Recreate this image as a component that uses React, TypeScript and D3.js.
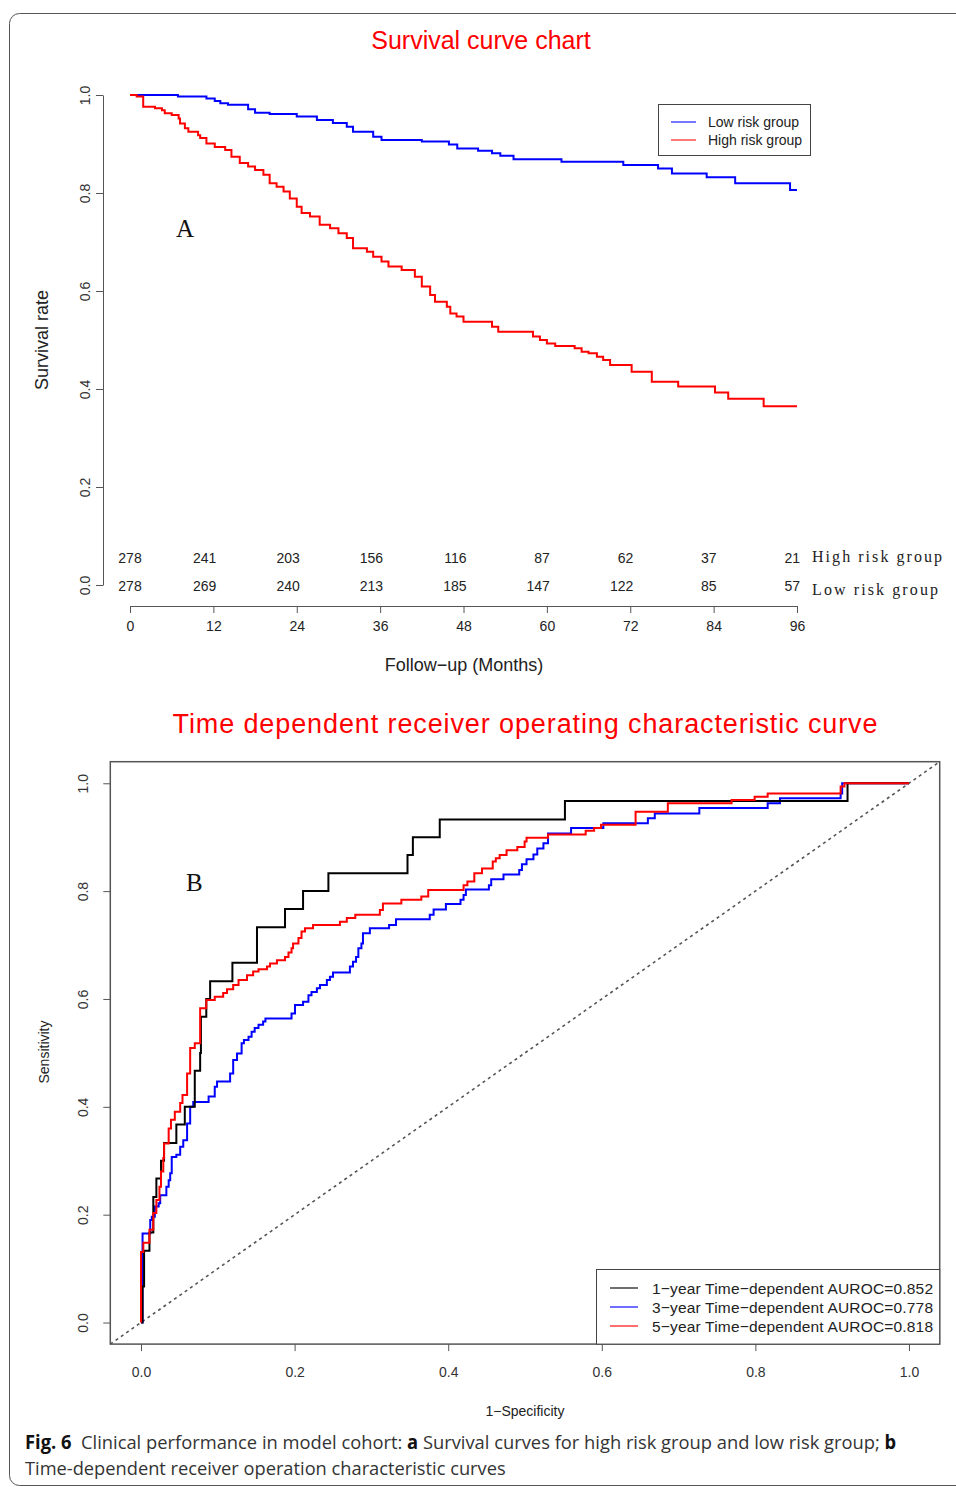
import * as d3 from "d3";
import { useEffect, useRef } from "react";

// number at risk table
const months = [0, 12, 24, 36, 48, 60, 72, 84, 96];
const highRiskAtRisk = [278, 241, 203, 156, 116, 87, 62, 37, 21];
const lowRiskAtRisk = [278, 269, 240, 213, 185, 147, 122, 85, 57];

// Kaplan-Meier steps: [month, survival]
const lowRiskSurv: [number, number][] = [
  [0, 1], [6.9, 0.997], [11, 0.993], [12.2, 0.988], [13, 0.983], [14.1, 0.98],
  [17, 0.971], [18, 0.964], [20.1, 0.961], [24, 0.956], [26.9, 0.949], [29.2, 0.943],
  [31.2, 0.935], [32.1, 0.925], [35, 0.915], [36.2, 0.908], [42, 0.905], [45.9, 0.899],
  [47.1, 0.891], [50.1, 0.886], [52.1, 0.881], [53.3, 0.876], [55.2, 0.869], [62.1, 0.864],
  [71, 0.857], [76, 0.85], [78, 0.84], [83, 0.832], [87.1, 0.82], [95, 0.806], [96, 0.806],
];
const highRiskSurv: [number, number][] = [
  [0, 1], [0.96, 0.997], [1.9, 0.976], [3.6, 0.973], [4.6, 0.969], [5, 0.963], [6, 0.959],
  [7, 0.952], [7.2, 0.942], [7.9, 0.932], [8.4, 0.925], [9.8, 0.918], [10.1, 0.912],
  [11, 0.901], [12.2, 0.894], [13.7, 0.888], [14.6, 0.874], [15.8, 0.861], [17, 0.854],
  [18, 0.847], [19.2, 0.837], [20.1, 0.82], [21.1, 0.813], [22.1, 0.803], [23, 0.789],
  [24, 0.772], [24.7, 0.759], [25.9, 0.752], [27.3, 0.735], [28.8, 0.728], [30, 0.718],
  [31.2, 0.708], [32.1, 0.687], [34.1, 0.68], [35, 0.67], [36.2, 0.66], [37.2, 0.65],
  [39.1, 0.643], [41, 0.629], [42, 0.609], [43.2, 0.592], [43.9, 0.578], [45.6, 0.568],
  [46.1, 0.554], [47, 0.548], [48, 0.537], [52.1, 0.527], [53, 0.517], [58, 0.507],
  [59, 0.5], [60, 0.493], [61.2, 0.488], [64, 0.483], [65, 0.476], [66, 0.473],
  [67.2, 0.466], [68.1, 0.459], [69.1, 0.449], [72.2, 0.435], [75.1, 0.415],
  [78.9, 0.405], [84.2, 0.393], [86.1, 0.38], [91.2, 0.365], [96, 0.365],
];

// time-dependent ROC: [1 - specificity, sensitivity]
const roc1Year: [number, number][] = [
  [0, 0], [0.002, 0.067], [0.004, 0.133], [0.011, 0.167], [0.016, 0.233], [0.02, 0.267],
  [0.026, 0.3], [0.03, 0.333], [0.046, 0.367], [0.057, 0.4], [0.07, 0.467], [0.077, 0.5],
  [0.078, 0.567], [0.085, 0.6], [0.09, 0.633], [0.119, 0.667], [0.151, 0.733],
  [0.1875, 0.767], [0.211, 0.8], [0.244, 0.833], [0.347, 0.867], [0.354, 0.9],
  [0.389, 0.933], [0.552, 0.967], [0.92, 1], [1, 1],
];
const roc3Year: [number, number][] = [
  [0, 0], [0.002, 0.091], [0.002, 0.165], [0.012, 0.19], [0.014, 0.196], [0.018, 0.215],
  [0.023, 0.221], [0.025, 0.236], [0.033, 0.252], [0.036, 0.264], [0.038, 0.277],
  [0.04, 0.307], [0.046, 0.311], [0.051, 0.326], [0.055, 0.338], [0.06, 0.369],
  [0.064, 0.4], [0.068, 0.409], [0.088, 0.419], [0.096, 0.437], [0.099, 0.447],
  [0.116, 0.462], [0.12, 0.487], [0.125, 0.499], [0.131, 0.518], [0.134, 0.524],
  [0.14, 0.53], [0.144, 0.539], [0.148, 0.546], [0.153, 0.552], [0.159, 0.558],
  [0.162, 0.564], [0.196, 0.573], [0.2005, 0.589], [0.211, 0.595], [0.218, 0.607],
  [0.222, 0.613], [0.229, 0.62], [0.233, 0.626], [0.242, 0.635], [0.246, 0.641],
  [0.25, 0.649], [0.272, 0.66], [0.276, 0.669], [0.28, 0.678], [0.283, 0.694],
  [0.287, 0.703], [0.289, 0.722], [0.298, 0.731], [0.323, 0.737], [0.332, 0.748],
  [0.376, 0.756], [0.381, 0.766], [0.397, 0.776], [0.416, 0.784], [0.42, 0.793],
  [0.423, 0.803], [0.453, 0.811], [0.456, 0.822], [0.472, 0.831], [0.4925, 0.839],
  [0.496, 0.85], [0.502, 0.859], [0.511, 0.868], [0.516, 0.879], [0.524, 0.889],
  [0.53, 0.907], [0.56, 0.917], [0.602, 0.926], [0.66, 0.935], [0.669, 0.944],
  [0.727, 0.954], [0.816, 0.963], [0.832, 0.972], [0.911, 0.981], [0.913, 1], [1, 1],
];
const roc5Year: [number, number][] = [
  [0, 0], [0, 0.131], [0.003, 0.148], [0.011, 0.172], [0.016, 0.203], [0.02, 0.227],
  [0.024, 0.252], [0.026, 0.28], [0.029, 0.305], [0.03, 0.332], [0.036, 0.36],
  [0.039, 0.376], [0.044, 0.391], [0.051, 0.407], [0.054, 0.422], [0.06, 0.462],
  [0.064, 0.509], [0.07, 0.518], [0.077, 0.583], [0.085, 0.598], [0.096, 0.604],
  [0.107, 0.611], [0.112, 0.618], [0.12, 0.626], [0.127, 0.635], [0.138, 0.644],
  [0.146, 0.651], [0.153, 0.655], [0.164, 0.66], [0.168, 0.666], [0.177, 0.672],
  [0.1875, 0.678], [0.192, 0.686], [0.196, 0.694], [0.198, 0.703], [0.205, 0.713],
  [0.209, 0.725], [0.2135, 0.731], [0.224, 0.737], [0.259, 0.743], [0.268, 0.75],
  [0.279, 0.756], [0.311, 0.765], [0.315, 0.777], [0.339, 0.784], [0.365, 0.79],
  [0.374, 0.802], [0.42, 0.811], [0.425, 0.818], [0.434, 0.833], [0.444, 0.842],
  [0.458, 0.855], [0.462, 0.861], [0.467, 0.867], [0.476, 0.876], [0.49, 0.882],
  [0.4995, 0.892], [0.502, 0.899], [0.53, 0.905], [0.579, 0.912], [0.59, 0.917],
  [0.599, 0.923], [0.644, 0.947], [0.686, 0.963], [0.769, 0.969], [0.799, 0.975],
  [0.816, 0.981], [0.911, 0.994], [0.916, 1], [1, 1],
];

const survLegend = [
  { label: "Low risk group", color: "#0000ff" },
  { label: "High risk group", color: "#ff0000" },
];
const rocLegend = [
  { label: "1\u2212year Time\u2212dependent AUROC=0.852", color: "#000000" },
  { label: "3\u2212year Time\u2212dependent AUROC=0.778", color: "#0000ff" },
  { label: "5\u2212year Time\u2212dependent AUROC=0.818", color: "#ff0000" },
];

const SANS = "'Liberation Sans', Arial, sans-serif";
const SERIF = "'Liberation Serif', 'Times New Roman', serif";
const CAPTION = "'Open Sans', sans-serif";

const App = () => {
  const svgRef = useRef<SVGSVGElement | null>(null);

  useEffect(() => {
    const svg = d3.select(svgRef.current);
    svg.selectAll("*").remove();

    // outer frame
    svg
      .append("rect")
      .attr("x", 9.5)
      .attr("y", 13.5)
      .attr("width", 970)
      .attr("height", 1472)
      .attr("rx", 10)
      .attr("fill", "none")
      .attr("stroke", "#555")
      .attr("stroke-width", 1);

    // ---------- A: survival curve ----------
    const x = d3.scaleLinear().domain([0, 96]).range([130, 797]);
    const y = d3.scaleLinear().domain([0, 1]).range([585, 95]);

    svg
      .append("text")
      .attr("x", 481)
      .attr("y", 49)
      .attr("text-anchor", "middle")
      .attr("fill", "#ff0000")
      .attr("font-family", SANS)
      .attr("font-size", 25)
      .text("Survival curve chart");

    const gY = svg
      .append("g")
      .attr("transform", "translate(103,0)")
      .call(
        d3
          .axisLeft(y)
          .tickValues([0, 0.2, 0.4, 0.6, 0.8, 1])
          .tickFormat(d3.format(".1f"))
          .tickSize(7)
          .tickSizeOuter(0)
      );
    gY.selectAll("path, line").attr("stroke", "#555");
    gY.selectAll("text")
      .attr("x", null)
      .attr("dy", null)
      .attr("transform", "translate(-13,0) rotate(-90)")
      .attr("text-anchor", "middle")
      .attr("font-family", SANS)
      .attr("font-size", 14)
      .attr("fill", "#333");

    const gX = svg
      .append("g")
      .attr("transform", "translate(0,606)")
      .call(d3.axisBottom(x).tickValues(months).tickSize(7).tickSizeOuter(0).tickPadding(8));
    gX.selectAll("path, line").attr("stroke", "#555");
    gX.selectAll("text").attr("font-family", SANS).attr("font-size", 14).attr("fill", "#222");

    svg
      .append("text")
      .attr("transform", "translate(48,340) rotate(-90)")
      .attr("text-anchor", "middle")
      .attr("font-family", SANS)
      .attr("font-size", 18)
      .attr("fill", "#222")
      .text("Survival rate");

    svg
      .append("text")
      .attr("x", 464)
      .attr("y", 671)
      .attr("text-anchor", "middle")
      .attr("font-family", SANS)
      .attr("font-size", 18)
      .attr("fill", "#222")
      .text("Follow\u2212up (Months)");

    svg
      .append("text")
      .attr("x", 176)
      .attr("y", 237)
      .attr("font-family", SERIF)
      .attr("font-size", 25)
      .attr("fill", "#111")
      .text("A");

    const stepLine = d3
      .line<[number, number]>()
      .x((d) => x(d[0]))
      .y((d) => y(d[1]))
      .curve(d3.curveStepAfter);

    [
      { data: lowRiskSurv, color: "#0000ff" },
      { data: highRiskSurv, color: "#ff0000" },
    ].forEach((s) => {
      svg
        .append("path")
        .datum(s.data)
        .attr("fill", "none")
        .attr("stroke", s.color)
        .attr("stroke-width", 2)
        .attr("d", stepLine);
    });

    // legend A
    const lgA = svg.append("g");
    lgA
      .append("rect")
      .attr("x", 658.5)
      .attr("y", 104.5)
      .attr("width", 152)
      .attr("height", 51)
      .attr("fill", "#fff")
      .attr("stroke", "#444");
    survLegend.forEach((d, i) => {
      const ly = 122 + i * 18;
      lgA.append("line").attr("x1", 671).attr("x2", 696).attr("y1", ly).attr("y2", ly)
        .attr("stroke", d.color).attr("stroke-width", 1.5).attr("opacity", 0.7);
      lgA.append("text").attr("x", 708).attr("y", ly + 5).attr("font-family", SANS)
        .attr("font-size", 14).attr("fill", "#222").text(d.label);
    });

    // number at risk
    const riskRows = [
      { counts: highRiskAtRisk, label: "High risk group", yb: 563, ly: 562 },
      { counts: lowRiskAtRisk, label: "Low risk group", yb: 591, ly: 595 },
    ];
    riskRows.forEach((r) => {
      svg
        .append("g")
        .selectAll("text")
        .data(r.counts)
        .enter()
        .append("text")
        .attr("x", (_, i) => (i === 0 ? x(months[i]) : x(months[i]) + 3))
        .attr("y", r.yb)
        .attr("text-anchor", (_, i) => (i === 0 ? "middle" : "end"))
        .attr("font-family", SANS)
        .attr("font-size", 14)
        .attr("fill", "#222")
        .text((d) => d);
      svg
        .append("text")
        .attr("x", 812)
        .attr("y", r.ly)
        .attr("font-family", SERIF)
        .attr("font-size", 16)
        .attr("fill", "#222")
        .attr("textLength", r.label.startsWith("High") ? 130 : 126)
        .text(r.label);
    });

    // ---------- B: time-dependent ROC ----------
    const rx = d3.scaleLinear().domain([-0.04, 1.04]).range([110.3, 939.7]);
    const ry = d3.scaleLinear().domain([-0.04, 1.04]).range([1344.1, 761.7]);
    const rocTicks = [0, 0.2, 0.4, 0.6, 0.8, 1];

    svg
      .append("text")
      .attr("x", 525)
      .attr("y", 733)
      .attr("text-anchor", "middle")
      .attr("fill", "#ff0000")
      .attr("font-family", SANS)
      .attr("font-size", 27)
      .attr("textLength", 705)
      .text("Time dependent receiver operating characteristic curve");

    svg
      .append("line")
      .attr("x1", rx(-0.04))
      .attr("y1", ry(-0.04))
      .attr("x2", rx(1.04))
      .attr("y2", ry(1.04))
      .attr("stroke", "#555")
      .attr("stroke-width", 1.6)
      .attr("stroke-dasharray", "3,3.5");

    const rocLine = d3
      .line<[number, number]>()
      .x((d) => rx(d[0]))
      .y((d) => ry(d[1]))
      .curve(d3.curveStepAfter);

    [
      { data: roc3Year, color: "#0000ff" },
      { data: roc1Year, color: "#000000" },
      { data: roc5Year, color: "#ff0000" },
    ].forEach((s) => {
      svg
        .append("path")
        .datum(s.data)
        .attr("fill", "none")
        .attr("stroke", s.color)
        .attr("stroke-width", 2)
        .attr("d", rocLine);
    });

    svg
      .append("rect")
      .attr("x", rx(-0.04))
      .attr("y", ry(1.04))
      .attr("width", rx(1.04) - rx(-0.04))
      .attr("height", ry(-0.04) - ry(1.04))
      .attr("fill", "none")
      .attr("stroke", "#555")
      .attr("stroke-width", 1.5);

    const gRX = svg
      .append("g")
      .attr("transform", `translate(0,${ry(-0.04)})`)
      .call(
        d3.axisBottom(rx).tickValues(rocTicks).tickFormat(d3.format(".1f"))
          .tickSize(7).tickSizeOuter(0).tickPadding(16)
      );
    gRX.select("path").remove();
    gRX.selectAll("line").attr("stroke", "#555");
    gRX.selectAll("text").attr("font-family", SANS).attr("font-size", 14).attr("fill", "#333");

    const gRY = svg
      .append("g")
      .attr("transform", `translate(${rx(-0.04)},0)`)
      .call(
        d3.axisLeft(ry).tickValues(rocTicks).tickFormat(d3.format(".1f"))
          .tickSize(7).tickSizeOuter(0)
      );
    gRY.select("path").remove();
    gRY.selectAll("line").attr("stroke", "#555");
    gRY.selectAll("text")
      .attr("x", null)
      .attr("dy", null)
      .attr("transform", "translate(-22,0) rotate(-90)")
      .attr("text-anchor", "middle")
      .attr("font-family", SANS)
      .attr("font-size", 14)
      .attr("fill", "#333");

    svg
      .append("text")
      .attr("transform", "translate(49,1052) rotate(-90)")
      .attr("text-anchor", "middle")
      .attr("font-family", SANS)
      .attr("font-size", 14)
      .attr("fill", "#222")
      .text("Sensitivity");

    svg
      .append("text")
      .attr("x", 525)
      .attr("y", 1416)
      .attr("text-anchor", "middle")
      .attr("font-family", SANS)
      .attr("font-size", 14)
      .attr("fill", "#222")
      .text("1\u2212Specificity");

    svg
      .append("text")
      .attr("x", 186)
      .attr("y", 891)
      .attr("font-family", SERIF)
      .attr("font-size", 25)
      .attr("fill", "#111")
      .text("B");

    // legend B
    const lgB = svg.append("g");
    lgB
      .append("rect")
      .attr("x", 596.5)
      .attr("y", 1269.5)
      .attr("width", rx(1.04) - 596.5)
      .attr("height", ry(-0.04) - 1269.5)
      .attr("fill", "#fff")
      .attr("stroke", "#444");
    rocLegend.forEach((d, i) => {
      const ly = 1288 + i * 19;
      lgB.append("line").attr("x1", 610).attr("x2", 638).attr("y1", ly).attr("y2", ly)
        .attr("stroke", d.color).attr("stroke-width", 1.5).attr("opacity", 0.75);
      lgB.append("text").attr("x", 652).attr("y", ly + 5.5).attr("font-family", SANS)
        .attr("font-size", 15.5).attr("fill", "#222").attr("textLength", 281).text(d.label);
    });

    // caption, condensed horizontally to the width of the original
    const fitCaption = (
      yPos: number,
      width: number,
      parts: { t: string; bold?: boolean }[]
    ) => {
      const g = svg.append("g");
      const t = g
        .append("text")
        .attr("font-family", CAPTION)
        .attr("font-size", 19)
        .attr("fill", "#333")
        .style("white-space", "pre");
      parts.forEach((p) => {
        t.append("tspan")
          .attr("font-weight", p.bold ? "bold" : null)
          .attr("fill", p.bold ? "#111" : null)
          .text(p.t);
      });
      const len = (t.node() as SVGTextElement).getComputedTextLength() || width;
      g.attr("transform", `translate(25,${yPos}) scale(${width / len},1)`);
    };
    fitCaption(1449, 872, [
      { t: "Fig. 6", bold: true },
      { t: "  Clinical performance in model cohort: " },
      { t: "a", bold: true },
      { t: " Survival curves for high risk group and low risk group; " },
      { t: "b", bold: true },
    ]);
    fitCaption(1475, 481, [{ t: "Time-dependent receiver operation characteristic curves" }]);
  }, []);

  return (
    <svg
      ref={svgRef}
      width={956}
      height={1487}
      style={{ position: "absolute", left: 0, top: 0, background: "#fff" }}
    ></svg>
  );
};

export default App;
